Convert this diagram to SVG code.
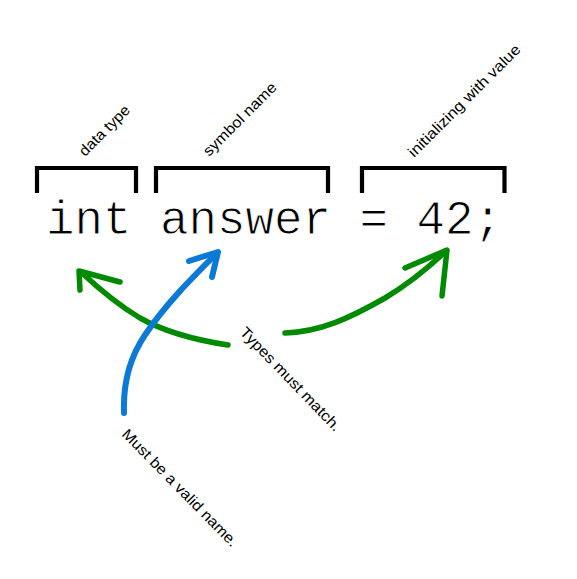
<svg xmlns="http://www.w3.org/2000/svg" width="577" height="579" viewBox="0 0 577 579">
<style>
.br{fill:none;stroke:#000;stroke-width:4.2}
.code{font-family:"Liberation Mono","Courier New",monospace;font-size:47.5px;fill:#000;stroke:#fff;stroke-width:0.9px}
.lbl{font-family:"Liberation Sans",Arial,sans-serif;font-size:15px;fill:#000}
.g{fill:none;stroke:#008a00;stroke-width:5.5;stroke-linecap:round;stroke-linejoin:round}
.b{fill:none;stroke:#0a7ad6;stroke-width:6;stroke-linecap:round;stroke-linejoin:round}
</style>
<rect width="577" height="579" fill="#fff"/>
<g id="code">
<text class="code" x="46" y="233.5">int answer = 42;</text>
</g>
<g id="bracket-datatype">
<path class="br" d="M37,193 V168 H136 V193"/>
<text class="lbl" transform="translate(85,157) rotate(-45)" textLength="65" lengthAdjust="spacingAndGlyphs">data type</text>
</g>
<g id="bracket-symbolname">
<path class="br" d="M156,193 V168 H328 V193"/>
<text class="lbl" transform="translate(209,157) rotate(-45)" textLength="97" lengthAdjust="spacingAndGlyphs">symbol name</text>
</g>
<g id="bracket-value">
<path class="br" d="M362,193 V168 H504.5 V193"/>
<text class="lbl" transform="translate(414,158) rotate(-45)" textLength="152" lengthAdjust="spacingAndGlyphs">initializing with value</text>
</g>
<g id="note-types">
<text class="lbl" transform="translate(239,333) rotate(46)" textLength="138" lengthAdjust="spacingAndGlyphs">Types must match.</text>
</g>
<g id="note-name">
<text class="lbl" transform="translate(121,435) rotate(45.5)" textLength="158" lengthAdjust="spacingAndGlyphs">Must be a valid name.</text>
</g>
<g id="connectors">
<path class="g" d="M228,345 C195,340 165,332 140,318 C115,303 98,288 81,272"/>
<path class="g" d="M80,290 L79,271 L120,282"/>
<path class="b" d="M124,413 C123,385 128,360 145,335 C165,305 190,280 217,253"/>
<path class="b" d="M189,261 L218,252 L212,277"/>
<path class="g" d="M285,333 C320,332 350,318 385,298 C410,283 428,268 446,251"/>
<path class="g" d="M405,268 L447,250 L442,296"/>
</g>
</svg>
